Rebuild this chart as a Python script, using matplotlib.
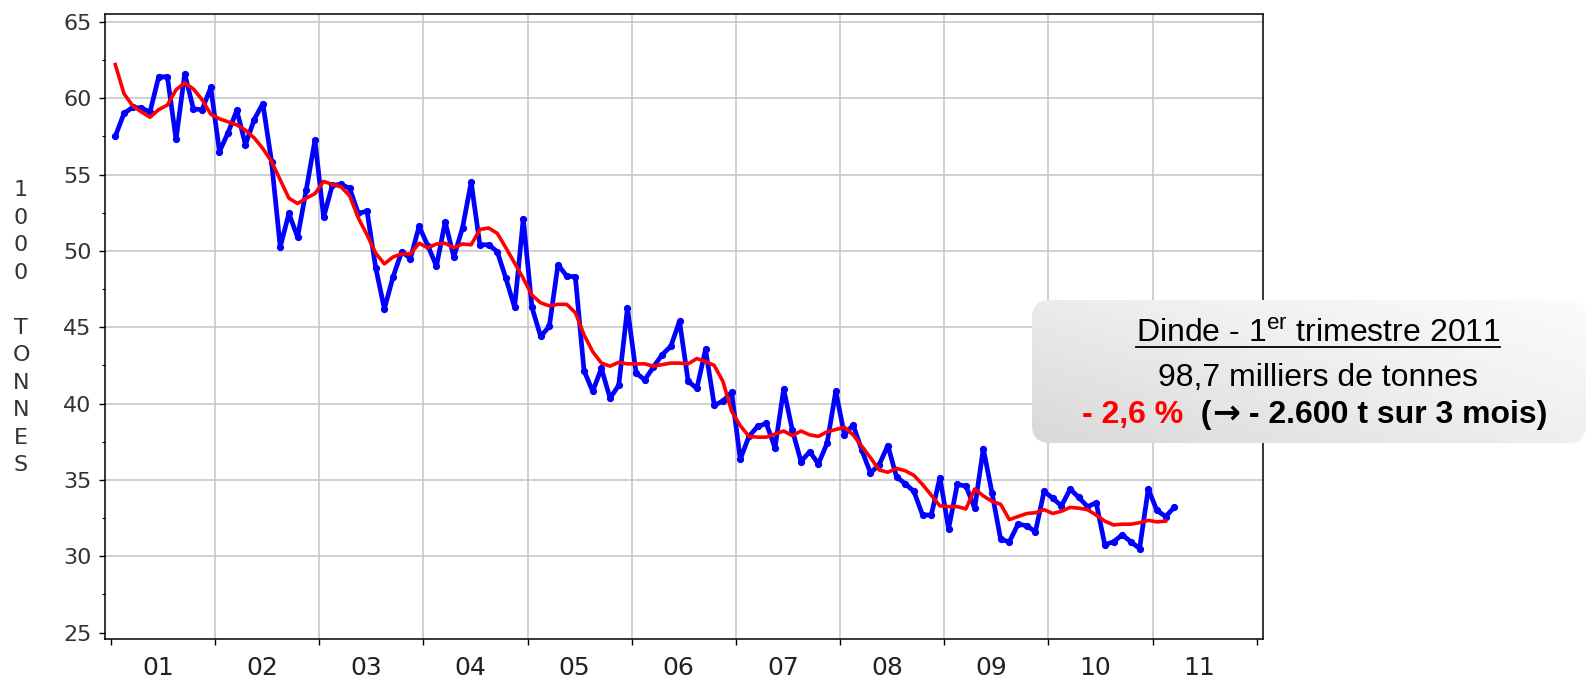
import numpy as np
import matplotlib
matplotlib.use("Agg")
import matplotlib.pyplot as plt
from matplotlib.patches import FancyBboxPatch

plt.rcParams['mathtext.fontset'] = 'custom'
plt.rcParams['mathtext.rm'] = 'Liberation Sans'

# monthly production, Jan 2001 .. Mar 2011 (1000 t)
blue = [57.5, 59.0, 59.4, 59.35, 59.1, 61.4, 61.4, 57.3, 61.6, 59.3, 59.25, 60.7,
        56.5, 57.75, 59.2, 56.95, 58.6, 59.65, 55.85, 50.25, 52.45, 50.9, 54.0, 57.25,
        52.2, 54.3, 54.35, 54.1, 52.45, 52.6, 48.9, 46.2, 48.3, 49.95, 49.5, 51.6,
        50.35, 49.0, 51.9, 49.6, 51.5, 54.5, 50.4, 50.4, 49.95, 48.2, 46.3, 52.1,
        46.3, 44.4, 45.05, 49.1, 48.35, 48.3, 42.15, 40.8, 42.3, 40.35, 41.2, 46.25,
        42.0, 41.55, 42.4, 43.2, 43.75, 45.4, 41.45, 41.0, 43.55, 39.9, 40.15, 40.75,
        36.35, 37.85, 38.5, 38.7, 37.1, 40.95, 38.25, 36.2, 36.85, 36.05, 37.4, 40.8,
        37.95, 38.6, 36.95, 35.45, 36.0, 37.25, 35.2, 34.75, 34.25, 32.7, 32.7, 35.15,
        31.8, 34.7, 34.6, 33.15, 37.05, 34.15, 31.1, 30.95, 32.1, 32.0, 31.6, 34.25,
        33.8, 33.3, 34.4, 33.85, 33.25, 33.5, 30.75, 30.95, 31.4, 30.95, 30.5, 34.4,
        33.0, 32.6, 33.2]

# smoothed trend (one month shorter)
red = [62.2, 60.3, 59.5, 59.1, 58.75, 59.25, 59.55, 60.55, 61.0, 60.6, 59.9, 58.95,
       58.65, 58.45, 58.25, 57.9, 57.4, 56.7, 55.85, 54.65, 53.45, 53.1, 53.45, 53.75,
       54.55, 54.35, 54.2, 53.6, 52.15, 51.05, 49.85, 49.15, 49.6, 49.8, 49.8, 50.5,
       50.2, 50.45, 50.5, 50.2, 50.45, 50.4, 51.4, 51.5, 51.15, 50.2, 49.2, 48.2,
       47.1, 46.6, 46.4, 46.5, 46.5, 45.95, 44.5, 43.4, 42.65, 42.45, 42.7, 42.6,
       42.6, 42.6, 42.45, 42.55, 42.65, 42.65, 42.6, 42.95, 42.75, 42.5, 41.45, 39.5,
       38.55, 37.85, 37.8, 37.8, 38.0, 38.2, 37.9, 38.2, 37.95, 37.85, 38.15, 38.3,
       38.45, 37.95, 37.2, 36.45, 35.65, 35.5, 35.75, 35.6, 35.3, 34.7, 34.0, 33.3,
       33.25, 33.25, 33.1, 34.4, 33.95, 33.6, 33.4, 32.4, 32.6, 32.8, 32.85, 33.05,
       32.8, 32.95, 33.2, 33.15, 33.05, 32.7, 32.3, 32.05, 32.1, 32.1, 32.2, 32.35,
       32.25, 32.3]

years = list(range(2001, 2013))
year_labels = ['01', '02', '03', '04', '05', '06', '07', '08', '09', '10', '11']

x_blue = 2001 + (np.arange(len(blue)) + 0.5) / 12
x_red = 2001 + (np.arange(len(red)) + 0.5) / 12

W, H = 1588, 682
fig = plt.figure(figsize=(W / 100, H / 100), dpi=100)
ax = fig.add_axes([104.7 / W, 1 - 639 / H, (1263 - 104.7) / W, (639 - 14.2) / H])

ax.plot(x_blue, blue, color='#0000ff', lw=3.4, marker='o', ms=4.2, zorder=3)
ax.plot(x_red, red, color='#ff0000', lw=2.6, zorder=4)

ax.set_xlim(2000.94, 2012.06)
ax.set_ylim(24.58, 65.5)

ax.set_xticks(years)
ax.set_xticklabels([])
ax.set_xticks([y + 0.45 for y in years[:-1]], minor=True)
ax.set_xticklabels(year_labels, minor=True, fontsize=18, color='#222222',
                   family=['Liberation Sans Narrow', 'DejaVu Sans'])
ax.tick_params(axis='x', which='major', length=4.5, width=1, direction='out')
ax.tick_params(axis='x', which='minor', length=0, pad=12)

ax.set_yticks(range(25, 66, 5))
ax.set_yticks(np.arange(27.5, 65, 5), minor=True)
ax.tick_params(axis='y', which='major', length=4.5, width=1, pad=5,
               labelsize=16, labelcolor='#333333')
ax.tick_params(axis='y', which='minor', length=2.5, width=0.8)

ax.grid(True, which='major', color='#c4c4c4', lw=1.1, zorder=0)
gl_y = ax.yaxis.get_gridlines()
gl_y[0].set_visible(False)
gl_x = ax.xaxis.get_gridlines()
gl_x[0].set_visible(False)
gl_x[-1].set_visible(False)

for s in ax.spines.values():
    s.set_linewidth(1.1)
    s.set_color('black')

# vertical axis title, one character per line
ylab = "1000 TONNES"
for k, ch in enumerate(ylab):
    fig.text(21 / W, 1 - (190.4 + 27.5 * k) / H, ch, ha='center', va='center',
             fontsize=16, color='#333333')

# annotation box in pixel coordinates
ov = fig.add_axes([0, 0, 1, 1], zorder=5)
ov.set_xlim(0, W)
ov.set_ylim(H, 0)
ov.axis('off')

bx0, bx1, by0, by1, r = 1032, 1586, 300, 443, 18
box = FancyBboxPatch((bx0 + r, by0 + r), bx1 - bx0 - 2 * r, by1 - by0 - 2 * r,
                     boxstyle=f"round,pad={r}", fc='none', ec='none')
ov.add_patch(box)
gx, gy = np.meshgrid(np.linspace(0, 1, 200), np.linspace(0, 1, 60))
grad = 0.55 * gx + 0.45 * (1 - gy)
img = ov.imshow(grad, extent=(bx0, bx1, by1, by0), cmap='Greys_r',
                vmin=-3.4, vmax=1.15, aspect='auto', zorder=1)
img.set_clip_path(box)

fam = ['Liberation Sans', 'DejaVu Sans']
cx = 1318
t1 = ov.text(cx, 342, r'Dinde - 1$^{\rm er}$ trimestre 2011', ha='center',
             va='baseline', fontsize=23, family=fam, zorder=3)
ov.text(cx, 386, '98,7 milliers de tonnes', ha='center', va='baseline',
        fontsize=23, family=fam, zorder=3)

# third line: red share, then bold black pieces placed one after another
parts = [('- 2,6 %', '#ff0000', fam, 23),
         ('  (', 'black', fam, 23),
         ('\u2192', 'black', ['DejaVu Sans'], 24),
         (' - 2.600 t sur 3 mois)', 'black', fam, 23)]
pieces = [ov.text(0, 423, s, ha='left', va='baseline', fontsize=fs, family=f,
                  weight='bold', color=c, zorder=3) for s, c, f, fs in parts]

fig.canvas.draw()
inv = ov.transData.inverted()
xpos = 1082
for p in pieces:
    p.set_x(xpos)
    bb = p.get_window_extent()
    (a, _), (b, _) = inv.transform([(bb.x0, bb.y0), (bb.x1, bb.y0)])
    xpos += b - a

bb = t1.get_window_extent()
(ux0, _), (ux1, _) = inv.transform([(bb.x0, bb.y0), (bb.x1, bb.y0)])
ov.plot([ux0, ux1], [346.7, 346.7], color='black', lw=1.3, zorder=3)

fig.savefig('out.png', dpi=100)
